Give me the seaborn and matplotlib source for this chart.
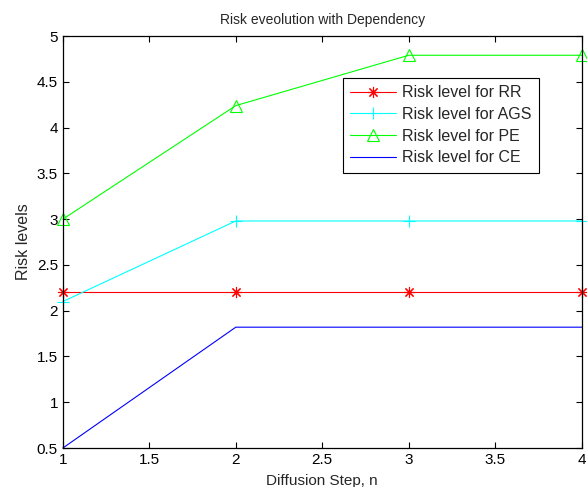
import pandas as pd
import seaborn as sns
import matplotlib.pyplot as plt

# data
steps = [1, 2, 3, 4]
rr = [2.2, 2.2, 2.2, 2.2]
ags = [2.1, 2.98, 2.98, 2.98]
pe = [3.0, 4.24, 4.79, 4.79]
ce = [0.5, 1.82, 1.82, 1.82]

labels = ["Risk level for RR", "Risk level for AGS", "Risk level for PE", "Risk level for CE"]

sns.set_style("ticks")
plt.rcParams["font.family"] = ["Liberation Sans", "DejaVu Sans"]

fig = plt.figure(figsize=(5.87, 4.87), dpi=100)
ax = fig.add_axes([0.107, 0.080, 0.884, 0.846])

# MATLAB-like asterisk
star = (8, 2, 0)

sns.lineplot(x=steps, y=rr, ax=ax, color=(1, 0, 0), marker=star, markersize=8,
             markeredgecolor=(1, 0, 0), markeredgewidth=0.8, linewidth=0.8, label=labels[0], clip_on=False)
sns.lineplot(x=steps, y=ags, ax=ax, color=(0, 1, 1), marker="+", markersize=9,
             markeredgecolor=(0, 1, 1), markeredgewidth=0.8, linewidth=0.8, label=labels[1], clip_on=False)
sns.lineplot(x=steps, y=pe, ax=ax, color=(0, 1, 0), marker="^", markersize=8,
             markerfacecolor="none", markeredgecolor=(0, 1, 0), markeredgewidth=0.8,
             linewidth=0.8, label=labels[2], clip_on=False)
sns.lineplot(x=steps, y=ce, ax=ax, color=(0, 0, 1), linewidth=0.8, label=labels[3], clip_on=False)

ax.set_xlim(1, 4)
ax.set_ylim(0.5, 5)
ax.set_xticks([1, 1.5, 2, 2.5, 3, 3.5, 4])
ax.set_xticklabels(["1", "1.5", "2", "2.5", "3", "3.5", "4"])
ax.set_yticks([0.5, 1, 1.5, 2, 2.5, 3, 3.5, 4, 4.5, 5])
ax.set_yticklabels(["0.5", "1", "1.5", "2", "2.5", "3", "3.5", "4", "4.5", "5"])
ax.tick_params(direction="in", top=True, right=True, length=4, width=0.8, labelsize=11, colors="black")
for s in ax.spines.values():
    s.set_visible(True)
    s.set_linewidth(0.9)
    s.set_color("black")

ax.set_title("Risk eveolution with Dependency", fontsize=10, pad=9)
ax.set_xlabel("Diffusion Step, n", fontsize=11, labelpad=5)
ax.set_ylabel("Risk levels", fontsize=11.5, labelpad=4)

leg = ax.legend(loc="upper right", bbox_to_anchor=(0.918, 0.898), fontsize=11.5, frameon=True,
                fancybox=False, edgecolor="black", framealpha=1, handlelength=2.9,
                borderpad=0.45, labelspacing=0.42, handletextpad=0.4, borderaxespad=0)
leg.get_frame().set_linewidth(0.8)

plt.savefig("out.png", dpi=100)
